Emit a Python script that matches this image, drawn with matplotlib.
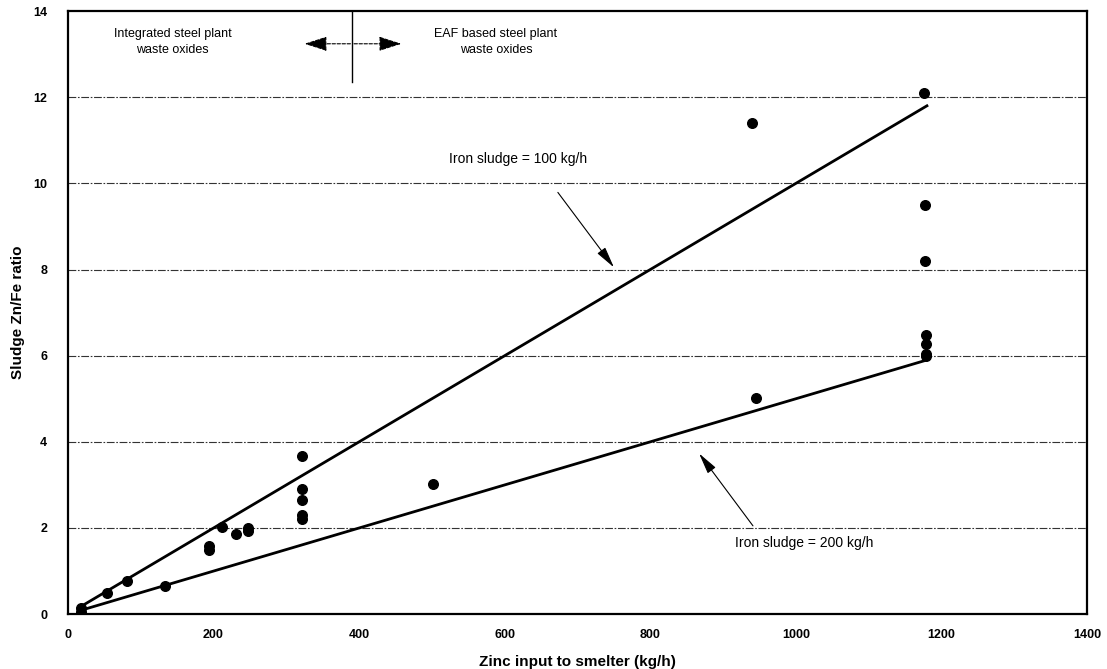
import matplotlib
matplotlib.use("Agg")
import matplotlib.pyplot as plt
import numpy as np

plt.rcParams['font.family'] = ['Liberation Sans', 'DejaVu Sans']

# measured points (zinc input kg/h, sludge Zn/Fe ratio)
zinc_input = [18, 18, 54, 81, 133, 194, 194, 212, 231, 247, 247,
              321, 322, 322, 322, 322, 502, 940, 945,
              1176, 1178, 1178, 1179, 1179, 1179, 1179]
zn_fe_ratio = [0.15, 0.05, 0.48, 0.76, 0.65, 1.59, 1.50, 2.02, 1.85, 2.00, 1.92,
               3.68, 2.91, 2.64, 2.30, 2.20, 3.01, 11.40, 5.02,
               12.10, 9.50, 8.20, 6.48, 6.27, 6.05, 5.99]

# model lines: Zn/Fe = zinc input / iron sludge
line_x = [18, 1180]
iron_sludge = [100, 200]

x_ticks = [0, 200, 400, 600, 800, 1000, 1200, 1400]
y_ticks = [0, 2, 4, 6, 8, 10, 12, 14]
grid_levels = [2, 4, 6, 8, 10, 12]

fig = plt.figure(figsize=(11.07, 6.69), dpi=100)
ax = fig.add_axes([0.0614, 0.082, 0.9206, 0.9015])

for g in grid_levels:
    ax.axhline(g, color='#333333', lw=0.8, ls=(0, (7, 1.5, 1.5, 1.5)), zorder=1)

for s in iron_sludge:
    ax.plot(line_x, [x / s for x in line_x], color='black', lw=2, zorder=2)

ax.scatter(zinc_input, zn_fe_ratio, s=48, color='black', zorder=3)

# region divider
head = '-|>,head_length=1.4,head_width=0.45'
ax.plot([390, 390], [14, 12.35], color='black', lw=1, zorder=2)
ax.annotate('', xy=(325, 13.24), xytext=(388, 13.24),
            arrowprops=dict(arrowstyle=head, color='black', lw=0.8,
                            ls=(0, (3, 1.5)), shrinkA=0, shrinkB=0))
ax.annotate('', xy=(458, 13.24), xytext=(393, 13.24),
            arrowprops=dict(arrowstyle=head, color='black', lw=0.8,
                            ls=(0, (3, 1.5)), shrinkA=0, shrinkB=0))
ax.text(144, 13.28, 'Integrated steel plant\nwaste oxides', ha='center', va='center',
        fontsize=9, linespacing=1.45)
ax.text(588, 13.28, 'EAF based steel plant\nwaste oxides', ha='center', va='center',
        fontsize=9, linespacing=1.45)

# line labels
ax.text(619, 10.56, 'Iron sludge = 100 kg/h', ha='center', va='center', fontsize=10)
ax.annotate('', xy=(750, 8.05), xytext=(673, 9.79),
            arrowprops=dict(arrowstyle='-|>,head_length=1.3,head_width=0.3',
                            color='black', lw=0.8, shrinkA=0, shrinkB=0))
ax.text(1012, 1.66, 'Iron sludge = 200 kg/h', ha='center', va='center', fontsize=10)
ax.annotate('', xy=(867, 3.73), xytext=(941, 2.05),
            arrowprops=dict(arrowstyle='-|>,head_length=1.3,head_width=0.3',
                            color='black', lw=0.8, shrinkA=0, shrinkB=0))

ax.set_xlim(0, 1400)
ax.set_ylim(0, 14)
ax.set_xticks(x_ticks)
ax.set_yticks(y_ticks)
ax.tick_params(length=0, labelsize=9)
ax.tick_params(axis='x', pad=11)
ax.tick_params(axis='y', pad=15)
for lab in ax.get_xticklabels() + ax.get_yticklabels():
    lab.set_fontweight('bold')
for sp in ax.spines.values():
    sp.set_linewidth(1.6)

ax.set_xlabel('Zinc input to smelter (kg/h)', fontsize=11, fontweight='bold', labelpad=10)
ax.set_ylabel('Sludge Zn/Fe ratio', fontsize=11, fontweight='bold', labelpad=6)

fig.savefig('out.png', dpi=100)
